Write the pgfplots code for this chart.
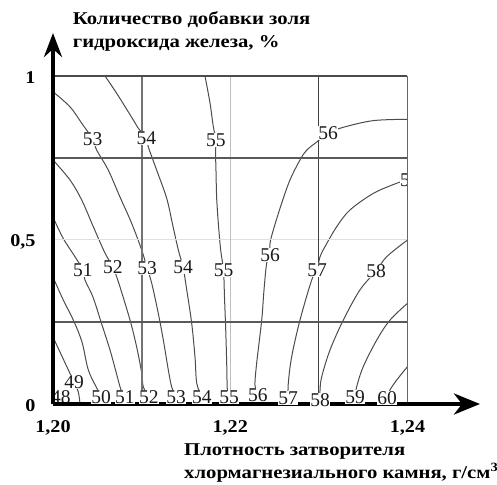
\documentclass[border=0pt]{standalone}
\usepackage{fontspec}
\setmainfont{Liberation Serif}
\usepackage{graphicx}
\usepackage{pgfplots}
\pgfplotsset{compat=1.18}
\usetikzlibrary{arrows.meta}
\newcommand{\lblfont}{\fontsize{19.5bp}{21bp}\selectfont}
\newcommand{\ttlfont}{\fontsize{18bp}{21bp}\selectfont\bfseries}
\newcommand{\wide}[1]{\scalebox{1.15}[1]{#1}}
\newcommand{\tw}[1]{\scalebox{1.12}[1]{#1}}
\begin{document}
\begin{tikzpicture}
\begin{axis}[name=ax, scale only axis, width=427bp, height=371bp,
  xmin=1.2, xmax=1.248181, ymin=0, ymax=1.1311,
  axis lines=left, axis on top, clip=false,
  axis line style={line width=4bp, black},
  x axis line style={-{Stealth[length=26bp,width=21bp,inset=8bp]}},
  y axis line style={-{Stealth[length=24bp,width=18bp,inset=8bp]}},
  xtick={1.2,1.22,1.24}, xticklabels={{\tw{1,20}},{\tw{1,22}},{\tw{1,24}}},
  ytick={0,0.5,1}, yticklabels={{\tw{0}},{\tw{0,5}},{\tw{1}}},
  major tick length=0pt,
  tick label style={font=\fontsize{18bp}{20bp}\selectfont\bfseries},
  xticklabel style={yshift=-13bp}, yticklabel style={xshift=-14bp, yshift=-2bp},
  cline/.style={black!70, line width=1bp, smooth, tension=0.55, mark=none},
]
% contour 49
\addplot[cline] coordinates {(1.2000,0.204) (1.20090,0.152) (1.20173,0.104) (1.20237,0.067) (1.20285,0.0375) (1.20305,0)};
% contour 50
\addplot[cline] coordinates {(1.2000,0.387) (1.20116,0.317) (1.20229,0.256) (1.20327,0.189) (1.20398,0.104) (1.20493,0.049) (1.20542,0.021) (1.20553,0)};
% contour 51
\addplot[cline] coordinates {(1.2000,0.570) (1.20113,0.506) (1.20248,0.449) (1.20338,0.409) (1.20361,0.378) (1.20451,0.326) (1.20553,0.241) (1.20643,0.165) (1.20711,0.098) (1.20767,0.043) (1.20812,0.021) (1.20824,0)};
% contour 52
\addplot[cline] coordinates {(1.2000,0.744) (1.20192,0.683) (1.20324,0.622) (1.20451,0.543) (1.20587,0.460) (1.20677,0.418) (1.20719,0.387) (1.20756,0.357) (1.20869,0.256) (1.20944,0.174) (1.21001,0.0945) (1.21019,0.052) (1.21083,0.021) (1.21094,0)};
% contour 53
\addplot[cline] coordinates {(1.2000,0.952) (1.20192,0.906) (1.20324,0.856) (1.20446,0.808) (1.20493,0.774) (1.20624,0.713) (1.20756,0.631) (1.20886,0.552) (1.21001,0.4695) (1.21061,0.415) (1.21114,0.368) (1.21188,0.2765) (1.21245,0.195) (1.21301,0.104) (1.21339,0.052) (1.21388,0.021) (1.21399,0)};
% contour 54
\addplot[cline] coordinates {(1.20587,1.0) (1.20719,0.947) (1.20906,0.866) (1.20963,0.8405) (1.21055,0.811) (1.21075,0.784) (1.21170,0.713) (1.21283,0.627) (1.21348,0.549) (1.21414,0.4695) (1.21467,0.418) (1.21509,0.348) (1.21565,0.246) (1.21602,0.144) (1.21622,0.063) (1.21681,0.021) (1.21693,0)};
% contour 55
\addplot[cline] coordinates {(1.21715,1.0) (1.21772,0.917) (1.21809,0.8455) (1.21839,0.805) (1.21834,0.768) (1.21839,0.713) (1.21847,0.627) (1.21867,0.546) (1.21892,0.4695) (1.21924,0.407) (1.21935,0.326) (1.21949,0.226) (1.21960,0.124) (1.21967,0.043) (1.21986,0.020) (1.21992,0)};
% contour 56
\addplot[cline] coordinates {(1.2400,0.868) (1.23614,0.864) (1.23276,0.8436) (1.23103,0.826) (1.22982,0.800) (1.22863,0.774) (1.22787,0.744) (1.22674,0.683) (1.22580,0.612) (1.22486,0.5305) (1.22449,0.490) (1.22449,0.454) (1.22411,0.429) (1.22381,0.348) (1.22355,0.256) (1.22298,0.124) (1.22279,0.058) (1.22313,0.0274) (1.22319,0)};
% contour 57
\addplot[cline] coordinates {(1.2400,0.683) (1.23878,0.673) (1.23614,0.642) (1.23351,0.5915) (1.23201,0.5405) (1.23069,0.4796) (1.23013,0.449) (1.22979,0.4085) (1.22919,0.378) (1.22787,0.256) (1.22693,0.144) (1.22655,0.063) (1.22652,0.018) (1.22652,0)};
% contour 58
\addplot[cline] coordinates {(1.2400,0.500) (1.23765,0.449) (1.23645,0.4055) (1.23464,0.348) (1.23276,0.256) (1.23126,0.165) (1.23032,0.083) (1.23013,0.043) (1.23013,0.012) (1.23013,0)};
% contour 59
\addplot[cline] coordinates {(1.2400,0.307) (1.23803,0.256) (1.23653,0.195) (1.23501,0.114) (1.23427,0.053) (1.23408,0.021) (1.23408,0)};
% contour 60
\addplot[cline] coordinates {(1.2400,0.114) (1.23878,0.073) (1.23803,0.043) (1.23769,0.018) (1.23758,0)};
% contour labels
\addplot[draw=none, mark=none, nodes near coords, point meta=explicit symbolic,
  nodes near coords style={anchor=center, fill=white, inner sep=0.3bp, text=black!90, font=\lblfont}]
  table[meta=lab] {
x y lab
1.20237 0.067 49
1.20542 0.021 50
1.20812 0.021 51
1.20338 0.409 51
1.21083 0.021 52
1.20677 0.418 52
1.21388 0.021 53
1.21061 0.415 53
1.20446 0.808 53
1.21681 0.021 54
1.21467 0.418 54
1.21055 0.811 54
1.21986 0.020 55
1.21924 0.407 55
1.21839 0.805 55
1.22313 0.027 56
1.22449 0.454 56
1.23103 0.826 56
1.22652 0.018 57
1.22979 0.409 57
1.23013 0.012 58
1.23645 0.4055 58
1.23408 0.021 59
1.23769 0.018 60
};
\begin{scope}
\clip (axis cs:1.2,0) rectangle (axis cs:1.24,1);
\node[anchor=center, fill=white, inner sep=0.3bp, text=black!90, font=\lblfont] at (axis cs:1.2009,0.021) {48};
\node[anchor=center, fill=white, inner sep=0.3bp, text=black!90, font=\lblfont] at (axis cs:1.24028,0.683) {57};
\end{scope}
% grid and frame
\addplot[black!12, line width=1bp] coordinates {(1.2,0.5) (1.24,0.5)};
\addplot[black!25, line width=1bp] coordinates {(1.22,0) (1.22,1)};
\addplot[black!55, line width=1.8bp] coordinates {(1.21,0) (1.21,1)};
\addplot[black!75, line width=0.9bp] coordinates {(1.23,0) (1.23,1)};
\addplot[black!65, line width=1.5bp] coordinates {(1.2,0.75) (1.24,0.75)};
\addplot[black!65, line width=1.1bp] coordinates {(1.2,0.25) (1.24,0.25)};
\addplot[black!70, line width=1.5bp] coordinates {(1.2,1) (1.24,1)};
\addplot[black!60, line width=1.8bp] coordinates {(1.24,0) (1.24,1)};
\end{axis}
\node[anchor=base west, inner sep=0pt, font=\ttlfont] at ([shift={(19.7bp,379bp)}]ax.south west) {\wide{Количество добавки золя}};
\node[anchor=base west, inner sep=0pt, font=\ttlfont] at ([shift={(19.7bp,356bp)}]ax.south west) {\wide{гидроксида железа, \%}};
\node[anchor=base west, inner sep=0pt, font=\ttlfont] at ([shift={(131bp,-51bp)}]ax.south west) {\wide{Плотность затворителя}};
\node[anchor=base west, inner sep=0pt, font=\ttlfont] at ([shift={(131bp,-74bp)}]ax.south west) {\wide{хлормагнезиального камня, г/см\textsuperscript{3}}};
\pgfresetboundingbox
\path ([shift={(-53bp,-81bp)}]ax.south west) rectangle ([shift={(444bp,404bp)}]ax.south west);
\end{tikzpicture}
\end{document}
